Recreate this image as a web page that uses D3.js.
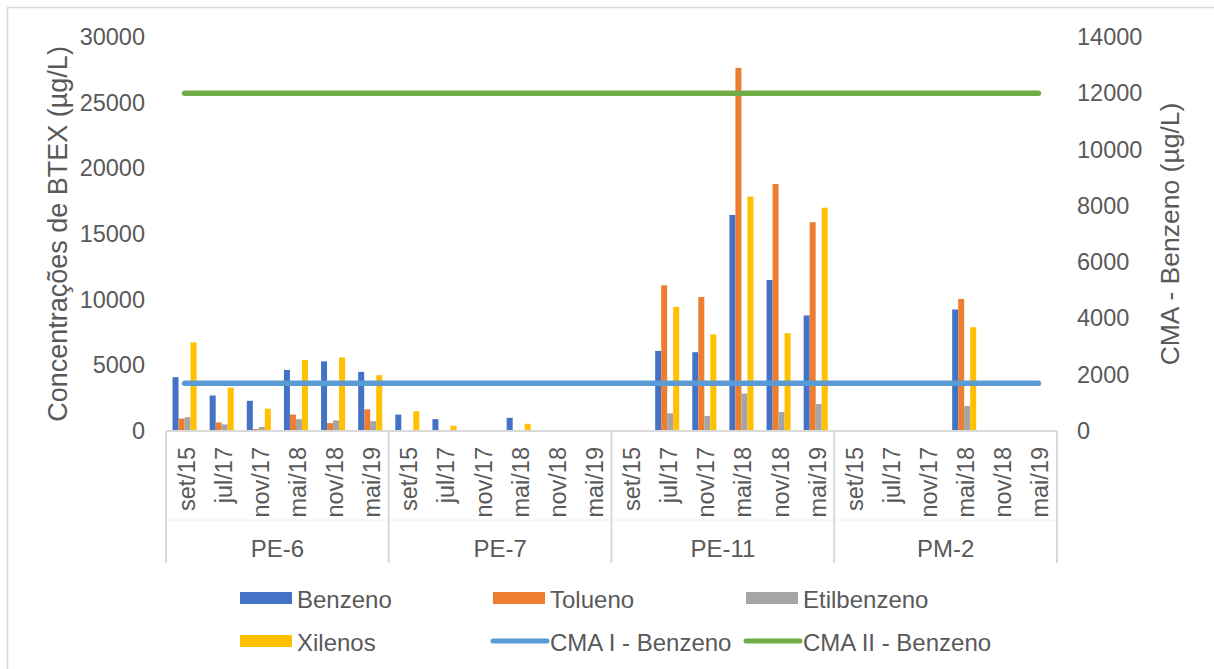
<!DOCTYPE html>
<html>
<head>
<meta charset="utf-8">
<script src="https://cdn.jsdelivr.net/npm/d3@7"></script>
<style>
  html, body { margin: 0; padding: 0; background: #fff; }
  svg { display: block; font-family: "Liberation Sans", Arial, sans-serif; }
</style>
</head>
<body>
<svg id="chart" width="1214" height="669"></svg>
<script>
// Monitoring wells and sampling campaigns
const groups = ["PE-6", "PE-7", "PE-11", "PM-2"];
const dates = ["set/15", "jul/17", "nov/17", "mai/18", "nov/18", "mai/19"];

// BTEX concentrations (µg/L), one entry per well × campaign; null = not detected
const benzeno = [4100, 2700, 2300, 4650, 5300, 4500,
                 1250, 900, null, 1000, null, null,
                 null, 6100, 6000, 16450, 11500, 8800,
                 null, null, null, 9250, null, null];
const tolueno = [950, 650, 150, 1250, 600, 1650,
                 50, null, null, 50, null, null,
                 null, 11100, 10200, 27650, 18800, 15900,
                 null, null, null, 10050, null, null];
const etilbenzeno = [1050, 500, 300, 900, 800, 750,
                     null, null, null, null, null, null,
                     null, 1350, 1150, 2850, 1450, 2050,
                     null, null, null, 1900, null, null];
const xilenos = [6750, 3300, 1700, 5400, 5600, 4250,
                 1500, 400, null, 550, null, null,
                 null, 9450, 7350, 17850, 7450, 17000,
                 null, null, null, 7900, null, null];

// Benzene reference limits (secondary axis, µg/L)
const cmaI = 1700;
const cmaII = 12000;

const leftTicks = [0, 5000, 10000, 15000, 20000, 25000, 30000];
const rightTicks = [0, 2000, 4000, 6000, 8000, 10000, 12000, 14000];

const barSeries = [
  { name: "Benzeno", values: benzeno, color: "#4472C4" },
  { name: "Tolueno", values: tolueno, color: "#ED7D31" },
  { name: "Etilbenzeno", values: etilbenzeno, color: "#A5A5A5" },
  { name: "Xilenos", values: xilenos, color: "#FFC000" }
];
const lineSeries = [
  { name: "CMA I - Benzeno", value: cmaI, color: "#5B9BD5" },
  { name: "CMA II - Benzeno", value: cmaII, color: "#70AD47" }
];

const svg = d3.select("#chart");
const textColor = "#595959";
const gridColor = "#D9D9D9";

// chart area border
svg.append("rect")
  .attr("x", 7.5).attr("y", 7.5)
  .attr("width", 1230).attr("height", 700)
  .attr("fill", "none").attr("stroke", gridColor).attr("stroke-width", 1.5);

const plot = { left: 166, right: 1057, top: 37, bottom: 431 };

const keys = [];
groups.forEach(g => dates.forEach(d => keys.push(g + "|" + d)));

const x = d3.scaleBand().domain(keys).range([plot.left, plot.right]);
const xg = d3.scaleBand().domain(groups).range([plot.left, plot.right]);
const xs = d3.scaleBand().domain(barSeries.map(s => s.name))
  .range([0, x.bandwidth()]).paddingInner(0).paddingOuter(1.09);

const yL = d3.scaleLinear().domain([0, 30000]).range([plot.bottom, plot.top]);
const yR = d3.scaleLinear().domain([0, 14000]).range([plot.bottom, plot.top]);

// left axis tick labels
const axL = svg.append("g").attr("transform", `translate(${plot.left - 21},0)`)
  .call(d3.axisLeft(yL).tickValues(leftTicks).tickSize(0).tickPadding(0).tickFormat(d3.format("d")));
axL.select(".domain").remove();
axL.selectAll("text").attr("fill", textColor).style("font-size", "23.5px")
  .style("font-family", "Liberation Sans, Arial, sans-serif");

// right axis tick labels
const axR = svg.append("g").attr("transform", `translate(${plot.right + 20},0)`)
  .call(d3.axisRight(yR).tickValues(rightTicks).tickSize(0).tickPadding(0).tickFormat(d3.format("d")));
axR.select(".domain").remove();
axR.selectAll("text").attr("fill", textColor).style("font-size", "23.5px")
  .style("font-family", "Liberation Sans, Arial, sans-serif");

// axis titles
svg.append("text")
  .attr("transform", `translate(58,${(plot.top + plot.bottom) / 2}) rotate(-90)`)
  .attr("text-anchor", "middle").attr("dominant-baseline", "central")
  .attr("fill", textColor).style("font-size", "27px")
  .text("Concentrações de BTEX (µg/L)");
svg.append("text")
  .attr("transform", `translate(1170,${(plot.top + plot.bottom) / 2}) rotate(-90)`)
  .attr("text-anchor", "middle").attr("dominant-baseline", "central")
  .attr("fill", textColor).style("font-size", "26.5px")
  .text("CMA - Benzeno (µg/L)");

// bars
barSeries.forEach(s => {
  svg.append("g").selectAll("rect")
    .data(keys.map((k, i) => ({ k, v: s.values[i] })).filter(d => d.v != null && d.v > 0))
    .join("rect")
    .attr("x", d => x(d.k) + xs(s.name))
    .attr("width", xs.bandwidth())
    .attr("y", d => yL(d.v))
    .attr("height", d => yL(0) - yL(d.v))
    .attr("fill", s.color);
});

// category axis baseline
svg.append("line")
  .attr("x1", plot.left).attr("x2", plot.right)
  .attr("y1", plot.bottom).attr("y2", plot.bottom)
  .attr("stroke", gridColor).attr("stroke-width", 2);

// faint divider between the two label levels
svg.append("line")
  .attr("x1", plot.left).attr("x2", plot.right)
  .attr("y1", 520).attr("y2", 520)
  .attr("stroke", "#F0F0F0").attr("stroke-width", 1);

// group separators
const bounds = groups.map(g => xg(g)).concat([plot.right]);
svg.append("g").selectAll("line").data(bounds).join("line")
  .attr("x1", d => d).attr("x2", d => d)
  .attr("y1", plot.bottom).attr("y2", 563)
  .attr("stroke", gridColor).attr("stroke-width", 2);

// date labels (rotated)
svg.append("g").selectAll("text").data(keys).join("text")
  .attr("transform", d => `translate(${x(d) + x.bandwidth() / 2 + 2},447) rotate(-90)`)
  .attr("text-anchor", "end").attr("dominant-baseline", "central")
  .attr("fill", textColor).style("font-size", "23.5px")
  .text(d => d.split("|")[1]);

// well labels
svg.append("g").selectAll("text").data(groups).join("text")
  .attr("x", d => xg(d) + xg.bandwidth() / 2)
  .attr("y", 557)
  .attr("text-anchor", "middle")
  .attr("fill", textColor).style("font-size", "24px")
  .text(d => d);

// reference lines on the secondary axis
const first = x(keys[0]) + x.bandwidth() / 2;
const last = x(keys[keys.length - 1]) + x.bandwidth() / 2;
lineSeries.forEach(s => {
  svg.append("path")
    .datum([first, last])
    .attr("d", d3.line().x(d => d).y(() => yR(s.value)))
    .attr("fill", "none").attr("stroke", s.color)
    .attr("stroke-width", 5.5).attr("stroke-linecap", "round");
});

// legend
const legendItems = [
  { name: "Benzeno", color: "#4472C4", type: "rect" },
  { name: "Tolueno", color: "#ED7D31", type: "rect" },
  { name: "Etilbenzeno", color: "#A5A5A5", type: "rect" },
  { name: "Xilenos", color: "#FFC000", type: "rect" },
  { name: "CMA I - Benzeno", color: "#5B9BD5", type: "line" },
  { name: "CMA II - Benzeno", color: "#70AD47", type: "line" }
];
const legCol = d3.scalePoint().domain([0, 1, 2]).range([240, 746]);
const legRow = d3.scalePoint().domain([0, 1]).range([598, 641]);
const leg = svg.append("g").selectAll("g").data(legendItems).join("g")
  .attr("transform", (d, i) => `translate(${legCol(i % 3)},${legRow(Math.floor(i / 3))})`);
leg.filter(d => d.type === "rect").append("rect")
  .attr("x", 0).attr("y", -6).attr("width", 52).attr("height", 12)
  .attr("fill", d => d.color);
leg.filter(d => d.type === "line").append("line")
  .attr("x1", 0).attr("x2", 54).attr("y1", 0).attr("y2", 0)
  .attr("stroke", d => d.color).attr("stroke-width", 5).attr("stroke-linecap", "round");
leg.append("text")
  .attr("x", 57).attr("y", 1)
  .attr("dominant-baseline", "central")
  .attr("fill", textColor).style("font-size", "24px")
  .text(d => d.name);
</script>
</body>
</html>
